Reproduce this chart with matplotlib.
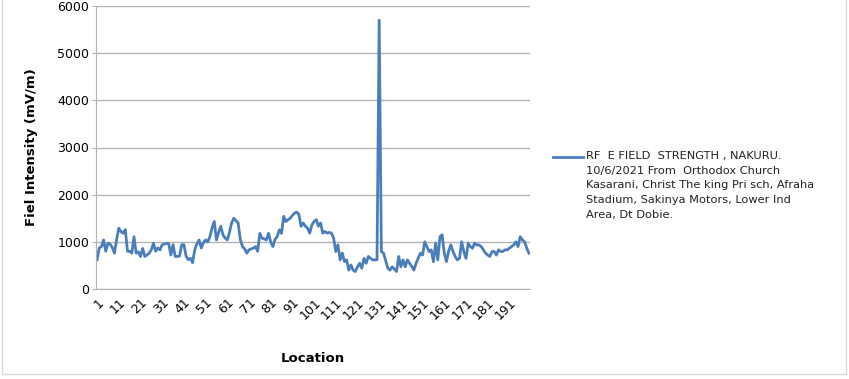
import numpy as np
import matplotlib
matplotlib.use("Agg")
from matplotlib import pyplot as plt
from matplotlib.lines import Line2D

## datos de intensidad de campo (mV/m) por ubicacion
ubicacion = list(range(1, 201))
intensidad = [
    620, 870, 900, 1040, 800, 970, 950, 880, 760, 1050,
    1290, 1220, 1180, 1260, 800, 800, 760, 1110, 760, 790,
    690, 860, 690, 720, 760, 830, 970, 800, 870, 830,
    940, 950, 970, 960, 720, 940, 690, 690, 700, 940,
    940, 700, 620, 650, 560, 830, 960, 1040, 870, 980,
    1040, 1000, 1110, 1300, 1430, 1040, 1200, 1330, 1150, 1080,
    1040, 1200, 1400, 1500, 1450, 1400, 1050, 900, 850, 760,
    830, 850, 865, 900, 800, 1180, 1080, 1060, 1040, 1180,
    1000, 900, 1050, 1110, 1255, 1180, 1540, 1430, 1470, 1500,
    1560, 1610, 1630, 1580, 1330, 1400, 1330, 1290, 1185, 1360,
    1430, 1470, 1330, 1400, 1185, 1220, 1185, 1200, 1185, 1080,
    795, 935, 617, 760, 580, 617, 400, 510, 400, 370,
    470, 545, 440, 650, 545, 690, 650, 617, 617, 620,
    5700, 795, 760, 600, 440, 400, 470, 420, 370, 690,
    470, 617, 470, 617, 545, 480, 400, 545, 650, 760,
    720, 1000, 900, 795, 830, 580, 970, 617, 1110, 1150,
    760, 580, 800, 935, 800, 690, 617, 650, 1000, 795,
    650, 970, 900, 865, 970, 935, 935, 900, 830, 760,
    720, 690, 795, 795, 720, 830, 795, 795, 830, 830,
    865, 900, 935, 1000, 900, 1110, 1040, 1000, 865, 760,
]
etiquetas = [str(u) for u in ubicacion[::10]]
leyenda = ("RF  E FIELD  STRENGTH , NAKURU.\n10/6/2021 From  Orthodox Church\n"
           "Kasarani, Christ The king Pri sch, Afraha\nStadium, Sakinya Motors, Lower Ind\n"
           "Area, Dt Dobie.")

W, H = 849, 379
fig = plt.figure(figsize=(W/100, H/100), dpi=100)
ax = fig.add_axes([96/W, 1-289/H, 434/W, 283/H])

azul = "#4a7ebb"
ax.plot(ubicacion, intensidad, color=azul, lw=2.0)

ax.set_xlim(0.5, 200.5)
ax.set_ylim(0, 6000)
ax.set_yticks(range(0, 6001, 1000))
ax.set_xticks(ubicacion[::10])
ax.set_xticklabels(etiquetas, rotation=45, ha="right", rotation_mode="anchor", fontsize=9)
ax.tick_params(axis="y", labelsize=9, length=3, color="#b3b3b3", pad=2)
ax.tick_params(axis="x", length=0, pad=5)
ax.grid(True, axis="y", color="#b3b3b3", lw=1)
ax.set_axisbelow(True)
for s in ["top", "right"]:
    ax.spines[s].set_visible(False)
ax.spines["left"].set_color("#b3b3b3")
ax.spines["bottom"].set_color("#b3b3b3")

ax.set_ylabel("Fiel Intensity (mV/m)", fontsize=9.5, fontweight="bold", labelpad=14)
ax.set_xlabel("Location", fontsize=9.5, fontweight="bold", labelpad=22)

# leyenda manual (la linea queda junto a la primera fila del texto)
fig.add_artist(Line2D([553/W, 583/W], [1-157/H, 1-157/H], color=azul, lw=2.0))
fig.text(586/W, 1-151/H, leyenda, fontsize=8.2, color="#222222", va="top",
         linespacing=1.58, transform=fig.transFigure)

# borde tenue del area del grafico
borde = "#d9d9d9"
fig.add_artist(Line2D([1.5/W, 1.5/W], [1-374/H, 1], color=borde, lw=1))
fig.add_artist(Line2D([846/W, 846/W], [1-374/H, 1], color=borde, lw=1))
fig.add_artist(Line2D([1.5/W, 846/W], [1-374/H, 1-374/H], color=borde, lw=1))

plt.savefig("out.png", dpi=100)
